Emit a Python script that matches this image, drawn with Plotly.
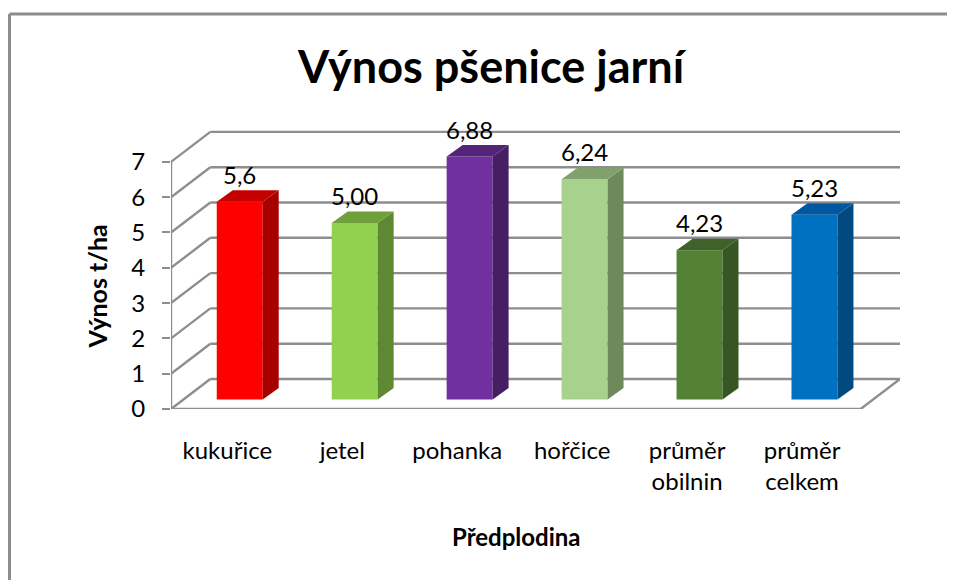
import plotly.graph_objects as go

categories = ["kukuřice", "jetel", "pohanka", "hořčice", "průměr<br>obilnin", "průměr<br>celkem"]
values = [5.6, 5.0, 6.88, 6.24, 4.23, 5.23]
value_labels = ["5,6", "5,00", "6,88", "6,24", "4,23", "5,23"]
y_ticks = [0, 1, 2, 3, 4, 5, 6, 7]

front_colors = ["#FF0000", "#92D050", "#7030A0", "#A9D18E", "#548235", "#0070C0"]
side_colors = ["#A60000", "#5F8832", "#451E63", "#6E8A5C", "#375623", "#004A80"]
top_colors = ["#C40000", "#6FA03C", "#54247A", "#80A06C", "#3F6229", "#0058A0"]

GRID = "#8E8E8E"
FONT = "Lato"
# the page body has an 8px margin, so everything is placed 8px up and left
OFF = 8
W, H = 955 - OFF, 580 - OFF
L, R, T, B = 171 - OFF, 55, 125 - OFF, 171

# oblique projection, all in axis units
x_min, x_max = -0.49, 5.852
y_max = 8.045
wall_dx, wall_dy = 0.342, 0.85
front_right = x_max - wall_dx
bar_shift_x, bar_base = 0.108, 0.27
bar_w = 0.4
bar_dx, bar_dy = 0.139, 0.326


def paper_x(px):
    return (px - OFF - L) / (W - L - R)


def paper_y(py):
    return (H - B - (py - OFF)) / (H - T - B)


def axis_line(x0, y0, x1, y1):
    return dict(type="line", layer="below", xref="x", yref="y", x0=x0, y0=y0, x1=x1, y1=y1,
                line=dict(color=GRID, width=2.4))


def border(px0, py0, px1, py1):
    return dict(type="line", xref="paper", yref="paper",
                x0=paper_x(px0), y0=paper_y(py0), x1=paper_x(px1), y1=paper_y(py1),
                line=dict(color="#8C8C8C", width=3))


fig = go.Figure()

bar_x = [i + bar_shift_x for i in range(len(values))]

fig.add_trace(go.Bar(x=bar_x, y=values, base=bar_base, width=bar_w,
                     marker=dict(color=front_colors, line_width=0), showlegend=False))

# side and top faces
for x, v, side, top in zip(bar_x, values, side_colors, top_colors):
    x1 = x + bar_w / 2
    x0 = x - bar_w / 2
    y1 = v + bar_base
    fig.add_trace(go.Scatter(
        x=[x1, x1 + bar_dx, x1 + bar_dx, x1, x1],
        y=[bar_base, bar_base + bar_dy, y1 + bar_dy, y1, bar_base],
        mode="lines", fill="toself", fillcolor=side, line=dict(width=0),
        hoverinfo="skip", showlegend=False))
    fig.add_trace(go.Scatter(
        x=[x0, x1, x1 + bar_dx, x0 + bar_dx, x0],
        y=[y1, y1, y1 + bar_dy, y1 + bar_dy, y1],
        mode="lines", fill="toself", fillcolor=top, line=dict(width=0),
        hoverinfo="skip", showlegend=False))

shapes = []
for k in y_ticks:
    shapes.append(axis_line(x_min, k, x_min + wall_dx, k + wall_dy))
    shapes.append(axis_line(x_min + wall_dx, k + wall_dy, x_max, k + wall_dy))
shapes.append(axis_line(x_min, 0, x_min, 7))
shapes.append(axis_line(x_min, 0, front_right, 0))
shapes.append(axis_line(front_right, 0, x_max, wall_dy))
shapes.append(border(9.5, 14, 955, 14))
shapes.append(border(9.5, 14, 9.5, 580))

annotations = [
    dict(x=x, y=v + bar_base, text=t, showarrow=False, yanchor="bottom", yshift=11,
         font=dict(family=FONT, size=24, color="#000000"))
    for x, v, t in zip(bar_x, values, value_labels)
]
annotations.append(dict(xref="paper", yref="paper", x=paper_x(516), y=paper_y(536), text="<b>Předplodina</b>",
                        xanchor="center", yanchor="middle", showarrow=False,
                        font=dict(family=FONT, size=24, color="#000000")))
annotations.append(dict(xref="paper", yref="paper", x=paper_x(96), y=paper_y(286.5), text="<b>Výnos t/ha</b>",
                        xanchor="center", yanchor="middle", textangle=-90, showarrow=False,
                        font=dict(family=FONT, size=25, color="#000000")))

fig.update_layout(
    width=W,
    height=H,
    margin=dict(l=L, r=R, t=T, b=B),
    paper_bgcolor="white",
    plot_bgcolor="white",
    title=dict(text="<b>Výnos pšenice jarní</b>", x=(491 - OFF) / W, xanchor="center",
               y=1 - (67 - OFF) / H, yanchor="middle",
               font=dict(family=FONT, size=45, color="#000000")),
    shapes=shapes,
    annotations=annotations,
    showlegend=False,
)
fig.update_xaxes(range=[x_min, x_max], tickmode="array", tickvals=list(range(len(categories))),
                 ticktext=categories, showgrid=False, zeroline=False, showline=False, ticks="",
                 ticklabelstandoff=25, tickfont=dict(family=FONT, size=24, color="#000000"))
fig.update_yaxes(range=[0, y_max], tickmode="array", tickvals=y_ticks, showgrid=False, zeroline=False,
                 showline=False, ticks="outside", ticklen=8, tickwidth=2.4, tickcolor=GRID,
                 ticklabelstandoff=12, tickfont=dict(family=FONT, size=24, color="#000000"))

fig.write_html("out.html")
